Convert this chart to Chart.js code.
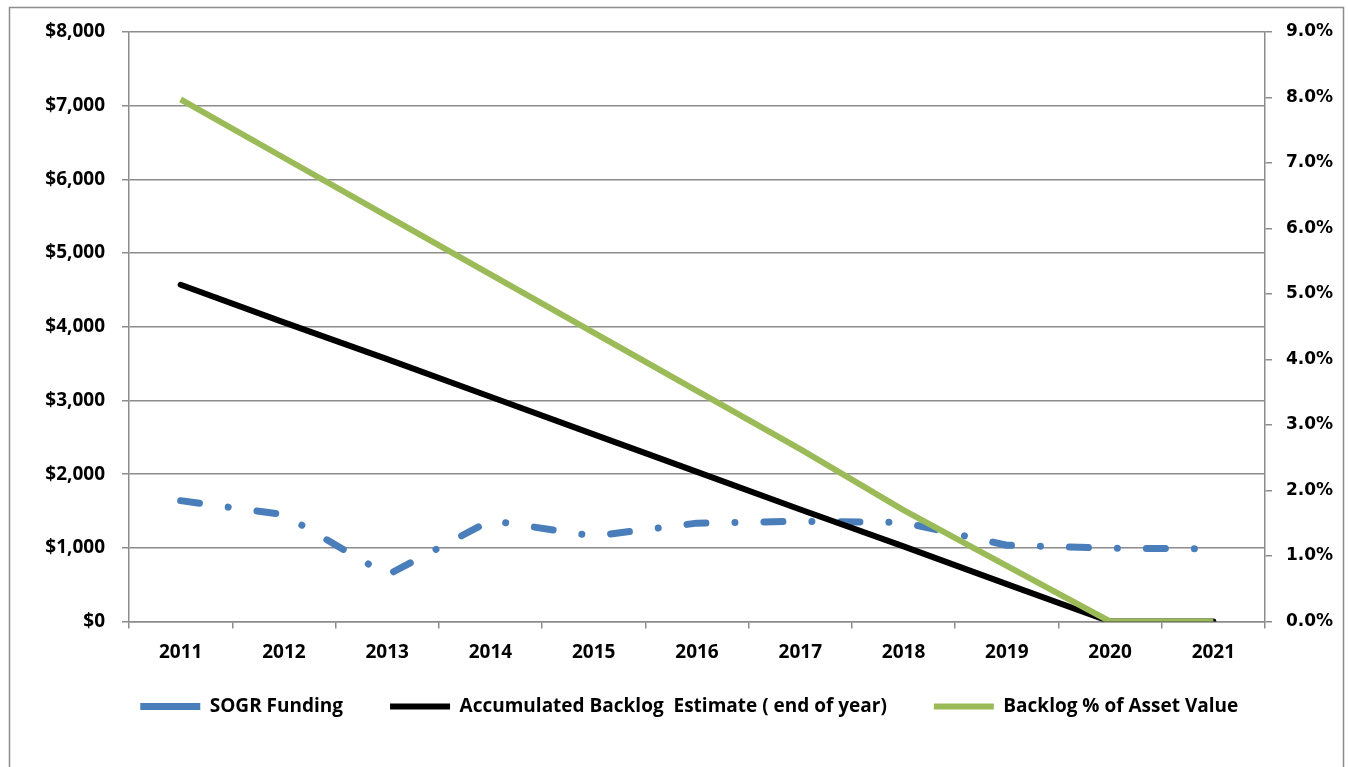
<!DOCTYPE html>
<html>
<head>
<meta charset="utf-8">
<script src="https://cdn.jsdelivr.net/npm/chart.js@4.4.1/dist/chart.umd.min.js"></script>
<style>
  html, body { margin: 0; padding: 0; background: #fff; }
  #wrap { width: 1348px; height: 767px; position: relative; }
</style>
</head>
<body>
<div id="wrap"><canvas id="chart"></canvas></div>
<script>
const years = ["2011", "2012", "2013", "2014", "2015", "2016", "2017", "2018", "2019", "2020", "2021"];
const sogrFunding = [1640, 1450, 630, 1370, 1160, 1335, 1360, 1345, 1035, 995, 985];
const accumulatedBacklog = [4570, 4060, 3560, 3050, 2540, 2030, 1520, 1020, 507, 0, 0];
const backlogPct = [7.97, 7.08, 6.19, 5.30, 4.41, 3.52, 2.63, 1.70, 0.85, 0, 0];

const dollarMax = 8000, dollarStep = 1000;
const pctMax = 9, pctStep = 1;

const gridGray = "#8c8c8c";

const frame = {
  id: "frame",
  beforeDraw(chart) {
    const ctx = chart.ctx;
    ctx.save();
    ctx.fillStyle = "#fff";
    ctx.fillRect(0, 0, chart.width, chart.height);
    ctx.strokeStyle = gridGray;
    ctx.lineWidth = 1.5;
    ctx.strokeRect(9.5, 7.5, 1334, 800);
    ctx.restore();
  }
};

const labelFont = { family: "'Open Sans', sans-serif", size: 19, weight: "bold" };

new Chart(document.getElementById("chart"), {
  type: "line",
  data: {
    labels: years,
    datasets: [{
      label: "SOGR Funding",
      data: sogrFunding,
      yAxisID: "y",
      borderColor: "#4a7ebb",
      backgroundColor: "#4a7ebb",
      borderWidth: 7,
      borderDash: [19, 29, 0.01, 29],
      borderCapStyle: "round",
      borderJoinStyle: "round",
      pointRadius: 0,
      tension: 0,
      order: 3
    }, {
      label: "Accumulated Backlog  Estimate ( end of year)",
      data: accumulatedBacklog,
      yAxisID: "y",
      borderColor: "#000",
      backgroundColor: "#000",
      borderWidth: 6,
      borderCapStyle: "round",
      borderJoinStyle: "round",
      pointRadius: 0,
      tension: 0,
      order: 2
    }, {
      label: "Backlog % of Asset Value",
      data: backlogPct,
      yAxisID: "y1",
      borderColor: "#9bbb59",
      backgroundColor: "#9bbb59",
      borderWidth: 6,
      borderCapStyle: "butt",
      borderJoinStyle: "round",
      pointRadius: 0,
      tension: 0,
      order: 1
    }]
  },
  options: {
    responsive: true,
    maintainAspectRatio: false,
    animation: false,
    layout: { padding: { left: 30.5, right: 0, top: 32, bottom: 41 } },
    plugins: {
      tooltip: { enabled: false },
      legend: {
        position: "bottom",
        labels: {
          usePointStyle: true,
          pointStyle: "line",
          pointStyleWidth: 60,
          color: "#000",
          font: labelFont,
          padding: 47,
          sort: (a, b) => a.datasetIndex - b.datasetIndex
        }
      }
    },
    scales: {
      x: {
        offset: true,
        grid: { offset: true, drawOnChartArea: false, drawTicks: true, tickLength: 7, color: gridGray, lineWidth: 1.5 },
        border: { display: true, color: gridGray, width: 1.5 },
        ticks: { color: "#000", font: labelFont, padding: 13, maxRotation: 0, autoSkip: false },
        afterFit: s => {
          s.height = 28.5;
          // labels sit below the squeezed axis box, so don't clip them to it
          s._computeLabelArea = () => undefined;
        }
      },
      y: {
        position: "left",
        min: 0,
        max: dollarMax,
        grid: { color: gridGray, lineWidth: 1.5, drawTicks: true, tickLength: 7 },
        border: { display: true, color: gridGray, width: 1.5 },
        ticks: {
          stepSize: dollarStep,
          color: "#000",
          font: labelFont,
          padding: 17,
          callback: v => "$" + v.toLocaleString("en-US")
        },
        afterFit: s => { s.width = 98.5; }
      },
      y1: {
        position: "right",
        min: 0,
        max: pctMax,
        grid: { drawOnChartArea: false, color: gridGray, lineWidth: 1.5, drawTicks: true, tickLength: 7 },
        border: { display: true, color: gridGray, width: 1.5 },
        ticks: {
          stepSize: pctStep,
          color: "#000",
          font: { family: "'DejaVu Sans', sans-serif", size: 17, weight: "bold" },
          padding: 14,
          callback: v => v.toFixed(1) + "%"
        },
        afterFit: s => { s.width = 83; }
      }
    }
  },
  plugins: [frame]
});
</script>
</body>
</html>
